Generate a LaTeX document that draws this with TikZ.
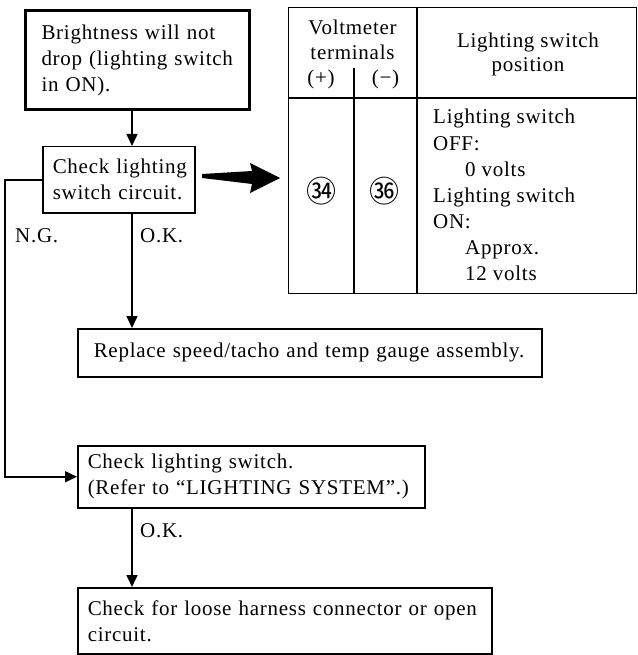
\documentclass[tikz,border=0pt]{standalone}
\usepackage{fontspec}
\setmainfont{Liberation Serif}[LetterSpace=3.5]
\newfontfamily\cjk{Noto Sans CJK JP}
\usetikzlibrary{arrows.meta}
\begin{document}
\begin{tikzpicture}[x=1pt,y=-1pt,
  font=\fontsize{21}{26}\selectfont,
  box/.style={draw, line width=1.5pt, anchor=north west, align=left, inner ysep=0pt},
  conn/.style={line width=1.5pt, -{Triangle[length=12pt,width=11pt]}},
  lbl/.style={anchor=base west, inner sep=0pt},
  cell/.style={anchor=base west, inner sep=0pt},
  ccell/.style={anchor=base, inner sep=0pt},
  circ/.style={inner sep=0pt, font=\cjk\fontsize{30}{30}\selectfont},
  tline/.style={line width=1.3pt}]
\useasboundingbox (0,0) rectangle (637,655);

% boxes
\node[box, line width=3pt, inner xsep=16pt, text width=192pt, minimum height=99pt] (b1) at (24,9)
  {\mbox{Brightness will not}\\\mbox{drop (lighting switch}\\\mbox{in ON).}};
\node[box, inner xsep=10pt, text width=132pt, minimum height=66pt] (b2) at (42,146)
  {\mbox{Check lighting}\\\mbox{switch circuit.}};
\node[box, inner xsep=16pt, text width=432pt, minimum height=48pt] (b3) at (77,328)
  {\mbox{Replace speed/tacho and temp gauge assembly.}};
\node[box, inner xsep=10pt, text width=327pt, minimum height=62pt] (b4) at (77,445)
  {\mbox{Check lighting switch.}\\\mbox{(Refer to “LIGHTING SYSTEM”.)}};
\node[box, inner xsep=10pt, text width=394pt, minimum height=66pt] (b5) at (77,587)
  {\mbox{Check for loose harness connector or open}\\\mbox{circuit.}};

% table
\node[draw, tline, anchor=north west, minimum width=348pt, minimum height=286pt, inner sep=0pt] (tbl) at (288,7) {};
\draw[tline] (288,98) -- (636,98);
\draw[tline] (417,7) -- (417,293);
\draw[tline] (354,68) -- (354,293);

\node[ccell] (hv1) at (352.5,35) {Voltmeter};
\node[ccell] (hv2) at (352.5,60) {terminals};
\node[ccell] (hp) at (321,85) {(+)};
\node[ccell] (hm) at (385.5,85) {(−)};
\node[ccell] (hl1) at (528,48) {Lighting switch};
\node[ccell] (hl2) at (528,72) {position};

\node[circ] (t34) at (321,191) {㉞};
\node[circ] (t36) at (384,191) {㊱};

\node[cell] (r1) at (433,124) {Lighting switch};
\node[cell] (r2) at (433,150) {OFF:};
\node[cell] (r3) at (465,176) {0 volts};
\node[cell] (r4) at (433,202) {Lighting switch};
\node[cell] (r5) at (433,228) {ON:};
\node[cell] (r6) at (465,254) {Approx.};
\node[cell] (r7) at (465,280) {12 volts};

% connectors
\coordinate (ax) at (132,0);
\coordinate (lx) at (5,0);
\draw[conn] (b1.south -| ax) -- (b2.north -| ax);
\draw[conn] (b2.south -| ax) -- (b3.north -| ax);
\draw[conn] (b2.west) -- (b2.west -| lx) -- (b4.west -| lx) -- (b4.west);
\draw[conn] (b4.south -| ax) -- (b5.north -| ax);

% big arrow
\fill (202,174) -- (252,171) -- (250,163) -- (280,178) -- (250,193) -- (252,184) -- (202,178) -- cycle;

% labels
\node[lbl] (ng) at (15,242) {N.G.};
\node[lbl] (ok1) at (140,242) {O.K.};
\node[lbl] (ok2) at (140,537) {O.K.};
\end{tikzpicture}
\end{document}
